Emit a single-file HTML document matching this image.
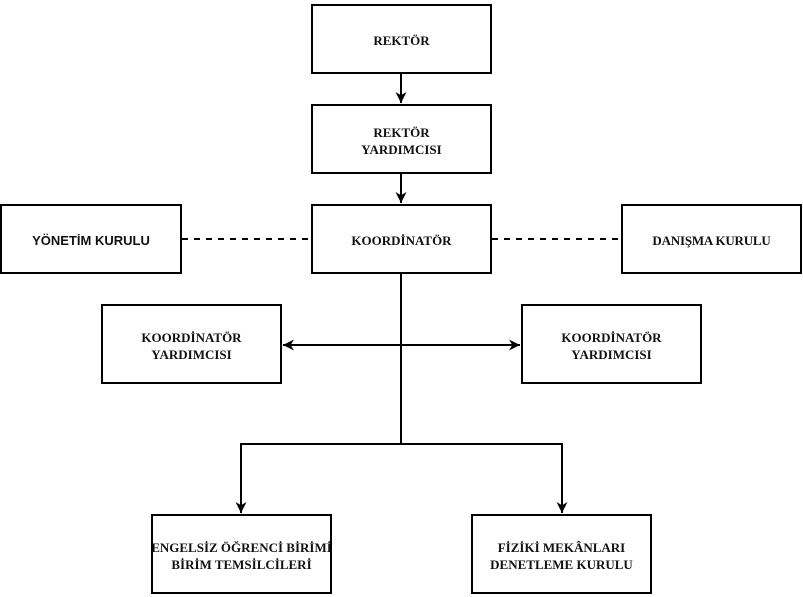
<!DOCTYPE html>
<html>
<head>
<meta charset="utf-8">
<style>
  html,body{margin:0;padding:0;background:#fff;}
  body{width:803px;height:597px;position:relative;overflow:hidden;}
  .b{position:absolute;box-sizing:border-box;border:2px solid #000;background:#fff;
     display:flex;align-items:center;justify-content:center;text-align:center;padding-top:3px;
     font-family:"Liberation Serif","Noto Serif CJK SC",serif;font-weight:bold;font-size:13px;line-height:17px;color:#111;white-space:nowrap;}
  .sans{font-family:"Liberation Sans","Noto Sans CJK SC",sans-serif;}
  svg{position:absolute;left:0;top:0;}
</style>
</head>
<body>
<svg width="803" height="597" viewBox="0 0 803 597">
  <defs>
    <marker id="a" viewBox="0 0 10 10" refX="10" refY="5" markerWidth="5.5" markerHeight="5.5" orient="auto" markerUnits="strokeWidth">
      <path d="M0,0 L10,5 L0,10 L3,5 Z" fill="#000"/>
    </marker>
  </defs>
  <g stroke="#000" stroke-width="2" fill="none">
    <line x1="401" y1="74" x2="401" y2="103" marker-end="url(#a)"/>
    <line x1="401" y1="174" x2="401" y2="203" marker-end="url(#a)"/>
    <line x1="182" y1="239" x2="311" y2="239" stroke-dasharray="6 6"/>
    <line x1="492" y1="239" x2="621" y2="239" stroke-dasharray="6 6"/>
    <line x1="401" y1="274" x2="401" y2="444"/>
    <line x1="401" y1="345" x2="283" y2="345" marker-end="url(#a)"/>
    <line x1="401" y1="345" x2="520" y2="345" marker-end="url(#a)"/>
    <polyline points="401,444 241,444 241,513" marker-end="url(#a)"/>
    <polyline points="401,444 562,444 562,513" marker-end="url(#a)"/>
  </g>
</svg>
<div class="b" style="left:311px;top:4px;width:181px;height:70px;">REKTÖR</div>
<div class="b" style="left:311px;top:104px;width:181px;height:70px;">REKTÖR<br>YARDIMCISI</div>
<div class="b" style="left:311px;top:204px;width:181px;height:70px;">KOORDİNATÖR</div>
<div class="b sans" style="left:0px;top:204px;width:182px;height:70px;">YÖNETİM KURULU</div>
<div class="b" style="left:621px;top:204px;width:181px;height:70px;letter-spacing:-0.2px;">DANIŞMA KURULU</div>
<div class="b" style="left:101px;top:304px;width:181px;height:80px;">KOORDİNATÖR<br>YARDIMCISI</div>
<div class="b" style="left:521px;top:304px;width:181px;height:80px;">KOORDİNATÖR<br>YARDIMCISI</div>
<div class="b" style="left:151px;top:514px;width:181px;height:80px;">ENGELSİZ ÖĞRENCİ BİRİMİ<br>BİRİM TEMSİLCİLERİ</div>
<div class="b" style="left:471px;top:514px;width:181px;height:80px;">FİZİKİ MEKÂNLARI<br>DENETLEME KURULU</div>
</body>
</html>
